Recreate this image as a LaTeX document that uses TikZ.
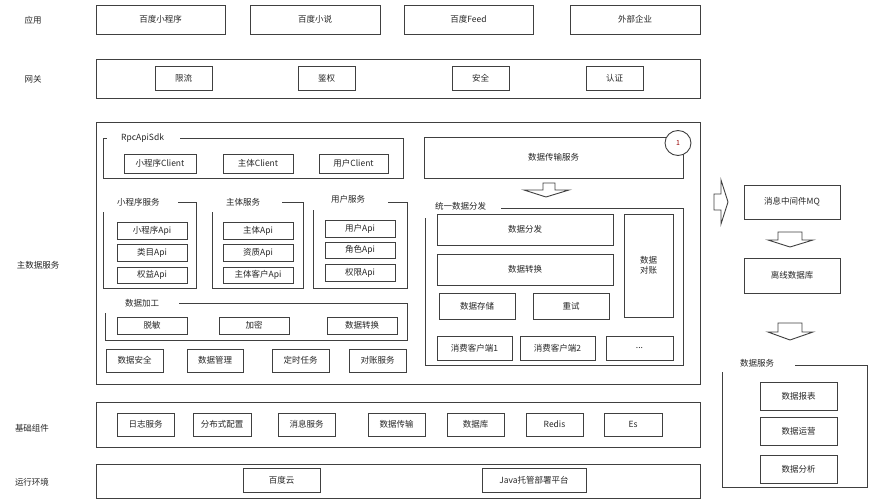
\documentclass[tikz,border=0pt]{standalone}
\usepackage{fontspec}
\setmainfont{Noto Sans CJK SC}
\usetikzlibrary{shapes.geometric}
\begin{document}
\begin{tikzpicture}[x=1pt,y=-1pt,
  line/.style={draw=black!75,line width=0.9pt},
  box/.style={line,rectangle,inner sep=0pt,font=\fontsize{8.5}{10}\selectfont,text=black!85},
  lbl/.style={inner sep=0pt,font=\fontsize{8.5}{10}\selectfont,text=black!85},
  grp/.style={line},
  harrow/.style={line,fill=white,line join=miter}]
\useasboundingbox (0,0) rectangle (878,500);
\newcommand\mybox[7][]{\node[box,#1,minimum width={#5-#3},minimum height={#6-#4}] (#2) at ({(#3+#5)/2},{(#4+#6)/2}) {#7};}
% row labels
\node[lbl] (lapp) at (33,20) {应用};
\node[lbl] (lgw) at (33,79) {网关};
\node[lbl] (lmain) at (38,265) {主数据服务};
\node[lbl] (lbase) at (32,428) {基础组件};
\node[lbl] (lrun) at (32,482) {运行环境};
% application row
\mybox{a1}{96}{5}{225}{34}{百度小程序}
\mybox{a2}{250}{5}{380}{34}{百度小说}
\mybox{a3}{404}{5}{533}{34}{百度Feed}
\mybox{a4}{570}{5}{700}{34}{外部企业}
% gateway
\mybox{gw}{96}{59}{700}{98}{}
\mybox{g1}{155}{66}{212}{90}{限流}
\mybox{g2}{298}{66}{355}{90}{鉴权}
\mybox{g3}{452}{66}{509}{90}{安全}
\mybox{g4}{586}{66}{643}{90}{认证}
% main data service
\mybox{main}{96}{122}{700}{384}{}
% RpcApiSdk
\node[lbl,anchor=west] (rpc) at (121,138) {RpcApiSdk};
\draw[grp] (180,138) -- (403,138) -- (403,178) -- (103,178) -- (103,138) -- (107,138);
\mybox{c1}{124}{154}{196}{173}{小程序Client}
\mybox{c2}{223}{154}{293}{173}{主体Client}
\mybox{c3}{319}{154}{388}{173}{用户Client}
% 小程序服务
\node[lbl,anchor=west] (s1) at (117,202) {小程序服务};
\draw[grp] (178,202) -- (196,202) -- (196,288) -- (103,288) -- (103,212);
\mybox{s1a}{117}{222}{187}{239}{小程序Api}
\mybox{s1b}{117}{244}{187}{261}{类目Api}
\mybox{s1c}{117}{267}{187}{283}{权益Api}
% 主体服务
\node[lbl,anchor=west] (s2) at (226,202) {主体服务};
\draw[grp] (282,202) -- (303,202) -- (303,288) -- (212,288) -- (212,212);
\mybox{s2a}{223}{222}{293}{239}{主体Api}
\mybox{s2b}{223}{244}{293}{261}{资质Api}
\mybox{s2c}{223}{267}{293}{283}{主体客户Api}
% 用户服务
\node[lbl,anchor=west] (s3) at (331,199) {用户服务};
\draw[grp] (388,202) -- (407,202) -- (407,288) -- (313,288) -- (313,210);
\mybox{s3a}{325}{220}{395}{237}{用户Api}
\mybox{s3b}{325}{242}{395}{258}{角色Api}
\mybox{s3c}{325}{264}{395}{281}{权限Api}
% 数据加工
\node[lbl,anchor=west] (dp) at (125,303) {数据加工};
\draw[grp] (179,303) -- (407,303) -- (407,340) -- (105,340) -- (105,313);
\mybox{dp1}{117}{317}{187}{334}{脱敏}
\mybox{dp2}{219}{317}{289}{334}{加密}
\mybox{dp3}{327}{317}{397}{334}{数据转换}
% bottom row of main
\mybox{m1}{106}{349}{163}{372}{数据安全}
\mybox{m2}{187}{349}{243}{372}{数据管理}
\mybox{m3}{272}{349}{329}{372}{定时任务}
\mybox{m4}{349}{349}{406}{372}{对账服务}
% data transfer service
\mybox{dts}{424}{137}{683}{178}{数据传输服务}
\node[line,ellipse,fill=white,minimum width=26pt,minimum height=25pt,inner sep=0pt,font=\fontsize{7}{8}\selectfont,text=red!60!black] (one) at (678,143) {1};
\draw[harrow] (543,183) -- (555,183) -- (555,190) -- (569,190) -- (546,197) -- (524,190) -- (543,190) -- cycle;
% 统一数据分发
\node[lbl,anchor=west] (ud) at (435,206) {统一数据分发};
\draw[grp] (501,208) -- (683,208) -- (683,365) -- (425,365) -- (425,218);
\mybox{u1}{437}{214}{613}{245}{数据分发}
\mybox{u2}{437}{254}{613}{285}{数据转换}
\mybox{u3}{439}{293}{515}{319}{数据存储}
\mybox{u4}{533}{293}{609}{319}{重试}
\mybox[align=center]{u5}{624}{214}{673}{317}{数据\\对账}
\mybox{u6}{437}{336}{512}{360}{消费客户端1}
\mybox{u7}{520}{336}{595}{360}{消费客户端2}
\mybox{u8}{606}{336}{673}{360}{...}
% right column
\draw[harrow] (714,194) -- (721,194) -- (721,180) -- (728,202) -- (721,224) -- (721,210) -- (714,210) -- cycle;
\mybox{mq}{744}{185}{840}{219}{消息中间件MQ}
\draw[harrow] (778,232) -- (802,232) -- (802,240) -- (813,240) -- (790,247) -- (768,240) -- (778,240) -- cycle;
\mybox{odb}{744}{258}{840}{293}{离线数据库}
\draw[harrow] (778,323) -- (802,323) -- (802,332) -- (813,332) -- (790,340) -- (768,332) -- (778,332) -- cycle;
\node[lbl,anchor=west] (ds) at (740,363) {数据服务};
\draw[grp] (795,365) -- (867,365) -- (867,487) -- (722,487) -- (722,372);
\mybox{d1}{760}{382}{837}{410}{数据报表}
\mybox{d2}{760}{417}{837}{445}{数据运营}
\mybox{d3}{760}{455}{837}{483}{数据分析}
% base components
\mybox{base}{96}{402}{700}{447}{}
\mybox{b1}{117}{413}{174}{436}{日志服务}
\mybox{b2}{193}{413}{251}{436}{分布式配置}
\mybox{b3}{278}{413}{335}{436}{消息服务}
\mybox{b4}{368}{413}{425}{436}{数据传输}
\mybox{b5}{447}{413}{504}{436}{数据库}
\mybox{b6}{526}{413}{583}{436}{Redis}
\mybox{b7}{604}{413}{662}{436}{Es}
% runtime
\mybox{run}{96}{464}{700}{498}{}
\mybox{r1}{243}{468}{320}{492}{百度云}
\mybox{r2}{482}{468}{586}{492}{Java托管部署平台}
\end{tikzpicture}
\end{document}
